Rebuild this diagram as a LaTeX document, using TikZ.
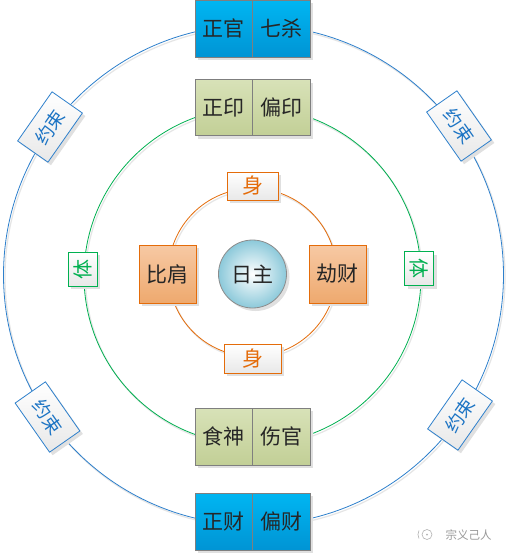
\documentclass[tikz,border=0pt]{standalone}
\usepackage{fontspec}
\newfontfamily\cjk{Noto Sans CJK SC}
\usetikzlibrary{shadows}
\definecolor{lineblue}{HTML}{2E80CC}
\definecolor{txtblue}{HTML}{1C74C4}
\definecolor{linegreen}{HTML}{00B050}
\definecolor{lineorange}{HTML}{E46C0A}
\definecolor{gridgray}{HTML}{7F7F7F}
\definecolor{cyantop}{HTML}{00B6F2}
\definecolor{cyanbot}{HTML}{0094D4}
\definecolor{olivetop}{HTML}{D8E2B8}
\definecolor{olivebot}{HTML}{C2CF96}
\definecolor{orangetop}{HTML}{F7C9A4}
\definecolor{orangebot}{HTML}{EEA96E}
\definecolor{balledge}{HTML}{8CC9DA}
\begin{document}
\begin{tikzpicture}[x=1pt,y=-1pt,
  sh/.style={drop shadow={shadow xshift=3pt,shadow yshift=-3pt,fill=black!12,opacity=1}},
  cell/.style={sh,draw=gridgray,line width=0.8pt,minimum width=57.5pt,minimum height=57pt,
    inner sep=0pt,font=\cjk\fontsize{21}{21}\selectfont,text=black!85},
  bluecell/.style={cell,top color=cyantop,bottom color=cyanbot},
  olivecell/.style={cell,top color=olivetop,bottom color=olivebot},
  orangecell/.style={cell,draw=lineorange,top color=orangetop,bottom color=orangebot,minimum width=57pt,minimum height=58pt},
  tagbox/.style={sh,line width=0.8pt,top color=white,bottom color=black!9,inner sep=0pt},
  shenbox/.style={tagbox,draw=lineorange,text=lineorange,font=\cjk\fontsize{21}{21}\selectfont},
  tibox/.style={tagbox,draw=linegreen,text=linegreen,font=\cjk\fontsize{20}{20}\selectfont,minimum width=34pt,minimum height=29pt},
  yuebox/.style={tagbox,draw=lineblue,text=txtblue,font=\cjk\fontsize{18.5}{18.5}\selectfont,minimum width=60pt,minimum height=37pt},
  ring/.style={line width=0.8pt},
  ringshadow/.style={line width=1.2pt,draw=black!10}
]
\useasboundingbox (0,0) rectangle (508,554);
\fill[white] (0,0) rectangle (508,554);

% rings (with faint shadows)
\draw[ringshadow] (255,277) circle[radius=250pt];
\draw[ring,lineblue] (253.5,275) circle[radius=250pt];
\draw[ringshadow] (254,278) circle[radius=168.5pt];
\draw[ring,linegreen] (252.5,276) circle[radius=168.5pt];
\draw[ringshadow] (254,274.5) circle[radius=84pt];
\draw[ring,lineorange] (252.5,272.5) circle[radius=84pt];

% outer boxes
\node[bluecell] (zg) at (223.75,28.5) {正官};
\node[bluecell] (qs) at (281.25,28.5) {七杀};
\node[bluecell] (zc) at (223.75,521.5) {正财};
\node[bluecell] (pc) at (281.25,521.5) {偏财};

% middle boxes
\node[olivecell,minimum height=56pt] (zy) at (223.75,107.5) {正印};
\node[olivecell,minimum height=56pt] (py) at (281.25,107.5) {偏印};
\node[olivecell] (ss) at (223.75,436.5) {食神};
\node[olivecell] (sg) at (281.25,436.5) {伤官};

% inner boxes
\node[orangecell] (bj) at (167.5,274) {比肩};
\node[orangecell] (jc) at (337.5,274) {劫财};
\node[sh,circle,draw=gridgray!90,line width=0.8pt,minimum size=68pt,inner sep=0pt,
  inner color=white,outer color=balledge,font=\cjk\fontsize{21}{21}\selectfont,text=black!85]
  (rz) at (252.5,274) {日主};

% tags
\node[shenbox,minimum width=51pt,minimum height=28pt] (shen1) at (252.5,186) {身};
\node[shenbox,minimum width=57pt,minimum height=29pt] (shen2) at (252.5,358.5) {身};
\node[tibox,rotate=90] (ti1) at (82.5,269) {体};
\node[tibox,rotate=-90] (ti2) at (419,268.5) {体};
\node[yuebox,rotate=55] (yue1) at (50,127) {约束};
\node[yuebox,rotate=-55] (yue2) at (459,126) {约束};
\node[yuebox,rotate=-55] (yue3) at (47.5,417) {约束};
\node[yuebox,rotate=55] (yue4) at (460,415) {约束};

% watermark
\node[circle,draw=black!30,line width=0.6pt,minimum size=10pt,inner sep=0pt] (ico) at (427,534.5) {};
\draw[black!30,line width=0.6pt] (ico.center) ++(-8pt,4pt) arc[start angle=150,end angle=210,radius=8pt];
\fill[black!30] (ico.center) circle[radius=1pt];
\node[font=\cjk\fontsize{11.5}{11.5}\selectfont,text=black!40,inner sep=0pt] (wm) at (468.5,535) {宗义己人};
\end{tikzpicture}
\end{document}
